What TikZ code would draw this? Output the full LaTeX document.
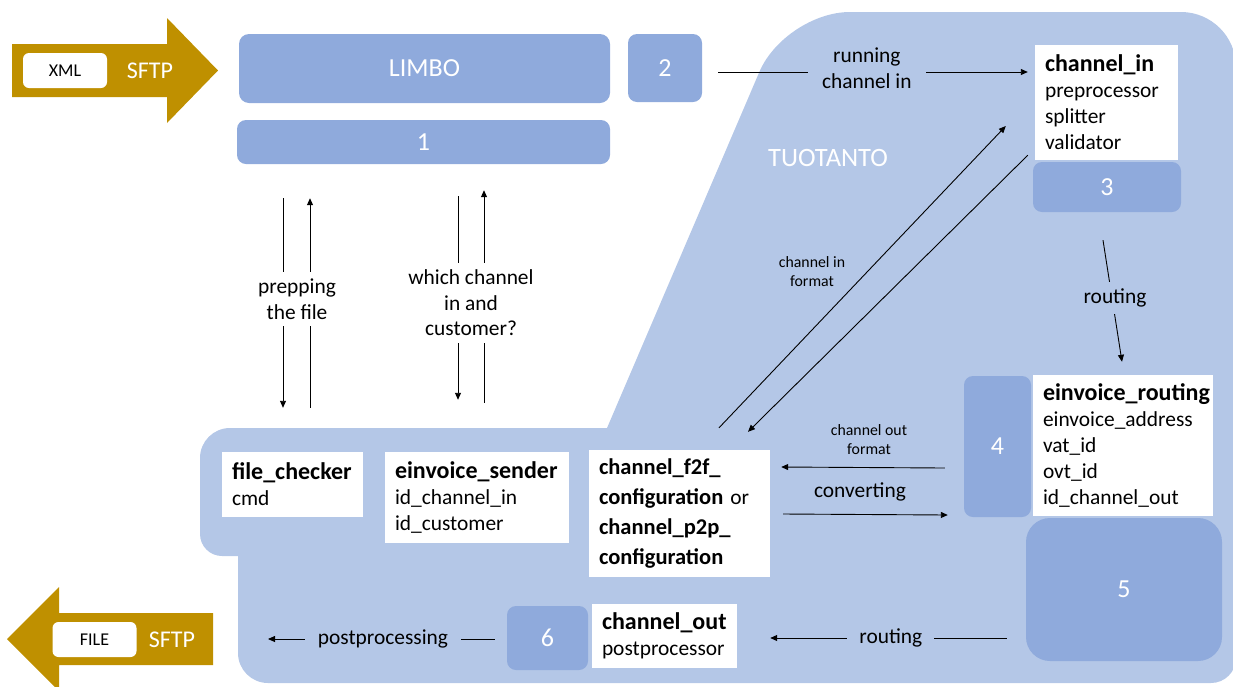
\documentclass[tikz,border=0pt]{standalone}
\usepackage{fontspec}
\setmainfont{Carlito}
\usetikzlibrary{arrows.meta,calc}
\definecolor{tuo}{HTML}{B4C7E7}
\definecolor{boxc}{HTML}{8FAADC}
\definecolor{gold}{HTML}{BF9000}
\newcommand{\ttl}[1]{{\fontsize{24}{26}\selectfont\bfseries #1}}
\begin{document}
\begin{tikzpicture}[x=1pt,y=-1pt,
  every node/.style={font=\fontsize{21.4}{25.5}\selectfont},
  dbox/.style={fill=boxc, rounded corners=9pt, text=white, inner sep=0pt, font=\fontsize{26}{30}\selectfont},
  wbox/.style={fill=white, inner xsep=10pt, inner ysep=0pt, align=left, font=\fontsize{21.4}{26}\selectfont},
  conn/.style={draw=black, line width=0.9pt, -{Triangle[length=7pt,width=6pt]}},
  small/.style={font=\fontsize{15.8}{19}\selectfont, align=center},
  tag/.style={fill=white, rounded corners=6pt, minimum width=84pt, minimum height=35pt, inner sep=0pt, font=\fontsize{18}{20}\selectfont},
  sftp/.style={text=white, font=\fontsize{24}{26}\selectfont}
]
\useasboundingbox (0,0) rectangle (1233,686);

% production area
\fill[tuo] (400,428)
  [rounded corners=30pt] -- (200,428)
  [rounded corners=22pt] -- (200,556)
  [sharp corners] -- (238,556)
  [rounded corners=30pt] -- (238,683)
  [rounded corners=25pt] -- (1236,683)
  [rounded corners=55pt] -- (1236,12)
  [rounded corners=65pt] -- (785,12)
  [sharp corners] -- (607,428)
  -- cycle;

% gold arrows
\fill[gold] (12,44) -- (167,44) -- (167,18) -- (218,70.5) -- (167,123) -- (167,97) -- (12,97) -- cycle;
\node[tag] (xml) at (65,70.5) {XML};
\node[sftp] (sftpin) at (150,71) {SFTP};
\fill[gold] (213,613) -- (59,613) -- (59,587) -- (7,639) -- (59,691) -- (59,665) -- (213,665) -- cycle;
\node[tag] (file) at (94.5,639.5) {FILE};
\node[sftp] (sftpout) at (172,640) {SFTP};
\coordinate (outarrow) at (213,639);

% boxes
\node[dbox, minimum width=371pt, minimum height=69pt, rounded corners=10pt] (limbo) at (424.5,68.5) {LIMBO};
\node[dbox, minimum width=373pt, minimum height=44pt] (b1) at (423.5,142) {1};
\node[dbox, minimum width=74pt, minimum height=68pt] (b2) at (665,68) {2};
\node[wbox, minimum width=143pt, minimum height=115pt, text width=123pt] (chin) at (1106.5,102.5) {\ttl{channel\_in}\\preprocessor\\splitter\\validator};
\node[dbox, minimum width=148pt, minimum height=50pt] (b3) at (1107,187) {3};
\node[text=white, font=\fontsize{26.5}{30}\selectfont] (tuotanto) at (828,158) {TUOTANTO};
\node[dbox, minimum width=67pt, minimum height=141pt] (b4) at (997.5,446.5) {4};
\node[wbox, minimum width=180pt, minimum height=141pt, text width=160pt] (erout) at (1123,445.5) {\ttl{einvoice\_routing}\\einvoice\_address\\vat\_id\\ovt\_id\\id\_channel\_out};
\node[dbox, minimum width=196pt, minimum height=143pt, rounded corners=24pt] (b5) at (1124,589.5) {5};
\node[dbox, minimum width=81pt, minimum height=64pt] (b6) at (547.5,638) {6};
\node[wbox, minimum width=145pt, minimum height=64pt, text width=125pt] (chout) at (664.5,636) {\ttl{channel\_out}\\postprocessor};
\node[wbox, minimum width=181pt, minimum height=127pt, text width=161pt, font=\fontsize{21.4}{30}\selectfont] (f2f) at (679.5,513.5) {{\fontsize{22.5}{30}\selectfont\bfseries channel\_f2f\_}\\{\fontsize{22.5}{30}\selectfont\bfseries configuration}~or\\{\fontsize{22.5}{30}\selectfont\bfseries channel\_p2p\_}\\{\fontsize{22.5}{30}\selectfont\bfseries configuration}};
\node[wbox, minimum width=141pt, minimum height=65pt, text width=121pt] (fc) at (292.5,484.5) {\ttl{file\_checker}\\cmd};
\node[wbox, minimum width=184pt, minimum height=91pt, text width=164pt] (es) at (477,497.5) {\ttl{einvoice\_sender}\\id\_channel\_in\\id\_customer};

% connectors
\draw[conn] ($(b2.east)+(16,4)$) -- node[pos=0.48, yshift=4pt, fill=tuo, inner xsep=14pt, inner ysep=2pt, align=center] (lrun) {running\\channel in} ($(b2.east -| chin.west)+(-7,4)$);

\draw[conn] ($(b1.south -| fc.north)+(-9.5,34)$) -- ($(fc.north)+(-9.5,-44)$);
\draw[conn] ($(fc.north)+(17.5,-44)$) -- ($(b1.south -| fc.north)+(17.5,34)$);
\node[fill=white, align=center, inner ysep=7pt] (lprep) at (297,299) {prepping\\the file};

\draw[conn] ($(b1.south -| es.north)+(-19,32)$) -- ($(es.north)+(-19,-52)$);
\draw[conn] ($(es.north)+(7,-49)$) -- ($(b1.south -| es.north)+(7,26)$);
\node[fill=white, align=center, inner ysep=7pt] (lwhich) at (471,303) {which channel\\in and\\customer?};

\draw[conn] ($(f2f.north)+(39.5,-22)$) -- ($(chin.west)+(-29,23.5)$);
\draw[conn] ($(chin.south west)+(-7,-5)$) -- ($(f2f.north)+(68.5,-18)$);
\node[small] (lcif) at (812,272) {channel in\\format};

\draw[conn] ($(b3.south)+(-4,28)$) -- node[pos=0.475, xshift=3pt, fill=tuo, inner xsep=2pt, inner ysep=7pt] (lrout1) {routing} ($(erout.north)+(-1,-13)$);

\draw[conn] ($(b4.west)+(-19,21.5)$) -- ($(f2f.east)+(11,-46.5)$);
\node[small] (lcof) at (869,440) {channel out\\format};
\draw[conn] ($(f2f.east)+(13,0.5)$) -- ($(b4.west)+(-16,68.5)$);
\node (lconv) at (860,492) {converting};

\draw[conn] ($(b5.west)+(-19,48.5)$) -- node[pos=0.49, fill=tuo, inner xsep=12pt] (lrout2) {routing} ($(chout.east)+(33,2)$);
\draw[conn] ($(b6.west)+(-12,1)$) -- node[pos=0.493, fill=tuo, inner xsep=13pt] (lpost) {postprocessing} ($(outarrow)+(55,0)$);
\end{tikzpicture}
\end{document}
